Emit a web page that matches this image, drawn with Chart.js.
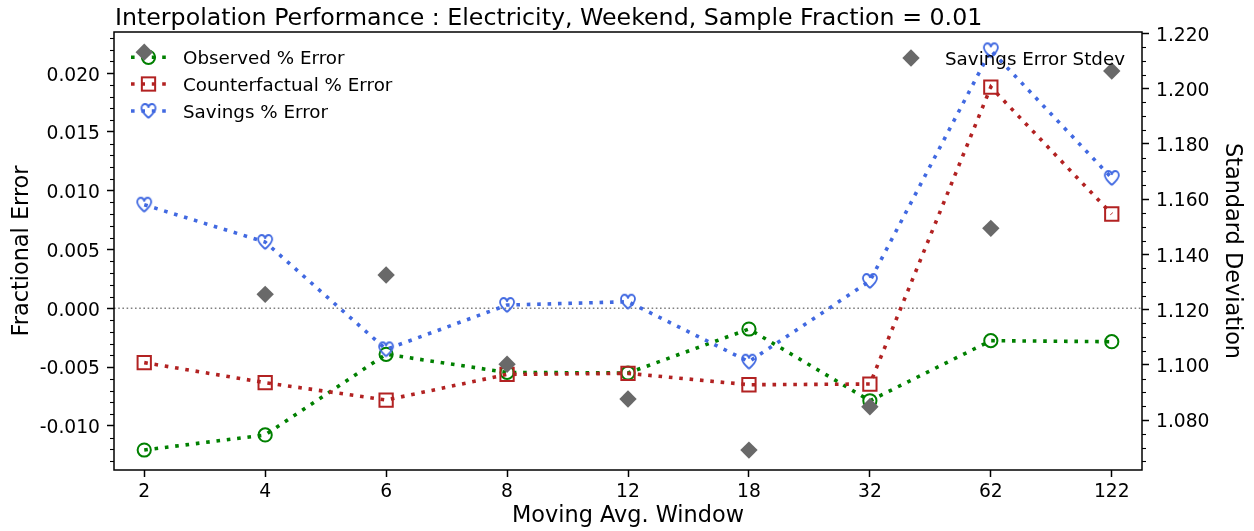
<!DOCTYPE html>
<html>
<head>
<meta charset="utf-8">
<script src="https://cdn.jsdelivr.net/npm/chart.js@4/dist/chart.umd.min.js"></script>
<style>
html,body{margin:0;padding:0;background:#fff;}
#c{display:block;}
</style>
</head>
<body>
<canvas id="c" width="1254" height="531"></canvas>
<script>
// ---- data ----
const categories = ['2','4','6','8','12','18','32','62','122'];
const observedErr = [-0.01205, -0.01077, -0.00391, -0.00545, -0.00550, -0.00176, -0.00786, -0.00275, -0.00284];
const counterfactualErr = [-0.00462, -0.00632, -0.00780, -0.00562, -0.00553, -0.00650, -0.00644, 0.01882, 0.00802];
const savingsErr = [0.00881, 0.00564, -0.00349, 0.00028, 0.00056, -0.00454, 0.00232, 0.02194, 0.01108];
const savingsStdev = [1.2132, 1.1255, 1.1325, 1.1002, 1.0876, 1.0691, 1.0848, 1.1494, 1.2064];
const leftTicks = [-0.010, -0.005, 0.000, 0.005, 0.010, 0.015, 0.020];
const rightTicks = [1.080, 1.100, 1.120, 1.140, 1.160, 1.180, 1.200, 1.220];
const zeroLineY = [0, 0];

const titleText = 'Interpolation Performance : Electricity, Weekend, Sample Fraction = 0.01';
const FONT = "'DejaVu Sans', 'Liberation Sans', sans-serif";
const GREEN = '#008000', RED = '#B22222', BLUE = '#4169E1', GRAY = '#696969';
const LW = 3.6, DASH = [3.6, 6.8];

function heartImage(color) {
  const c = document.createElement('canvas');
  c.width = 18; c.height = 18;
  const g = c.getContext('2d');
  g.strokeStyle = color; g.lineWidth = 1.8; g.lineJoin = 'round';
  g.beginPath();
  g.moveTo(9, 16);
  g.bezierCurveTo(4.5, 12, 2, 9.5, 2, 6.3);
  g.bezierCurveTo(2, 3.7, 3.8, 2, 5.7, 2);
  g.bezierCurveTo(7.4, 2, 8.5, 3.2, 9, 5.2);
  g.bezierCurveTo(9.5, 3.2, 10.6, 2, 12.3, 2);
  g.bezierCurveTo(14.2, 2, 16, 3.7, 16, 6.3);
  g.bezierCurveTo(16, 9.5, 13.5, 12, 9, 16);
  g.stroke();
  return c;
}
const heart = heartImage(BLUE);

const pts = arr => categories.map((c, i) => ({x: i, y: arr[i]}));
const xMin = -0.25, xMax = 8.25;

const lineBase = {
  borderWidth: LW, borderDash: DASH, borderCapStyle: 'butt', tension: 0,
  pointBackgroundColor: 'rgba(0,0,0,0)', pointBorderWidth: 2, yAxisID: 'y'
};

const datasets = [
  {label: 'Savings Error Stdev', data: pts(savingsStdev), yAxisID: 'y2', showLine: false,
   pointStyle: 'rectRot', pointRadius: 8.7, pointBackgroundColor: GRAY, pointBorderWidth: 0,
   borderColor: GRAY, backgroundColor: GRAY, order: 0},
  Object.assign({}, lineBase, {label: 'Savings % Error', data: pts(savingsErr), borderColor: BLUE,
   pointStyle: heart, pointRadius: 9, pointBorderColor: BLUE, order: 1}),
  Object.assign({}, lineBase, {label: 'Counterfactual % Error', data: pts(counterfactualErr), borderColor: RED,
   pointStyle: 'rect', pointRadius: 9.4, pointBorderColor: RED, order: 2}),
  Object.assign({}, lineBase, {label: 'Observed % Error', data: pts(observedErr), borderColor: GREEN,
   pointStyle: 'circle', pointRadius: 6.6, pointBorderColor: GREEN, order: 3}),
  {label: 'zero', data: [{x: xMin, y: zeroLineY[0]}, {x: xMax, y: zeroLineY[1]}], yAxisID: 'y',
   borderColor: '#808080', borderWidth: 1.6, borderDash: [1.6, 2.6], borderCapStyle: 'butt',
   pointRadius: 0, order: 4}
];

function drawMarker(ctx, type, x, y) {
  ctx.save();
  ctx.setLineDash([]);
  if (type === 'circle') {
    ctx.strokeStyle = GREEN; ctx.lineWidth = 2;
    ctx.beginPath(); ctx.arc(x, y, 6.6, 0, Math.PI * 2); ctx.stroke();
  } else if (type === 'rect') {
    ctx.strokeStyle = RED; ctx.lineWidth = 2;
    const s = 9.4 * Math.SQRT1_2;
    ctx.strokeRect(x - s, y - s, 2 * s, 2 * s);
  } else if (type === 'heart') {
    ctx.drawImage(heart, x - 9, y - 9);
  } else if (type === 'diamond') {
    const r = 8.7;
    ctx.fillStyle = GRAY;
    ctx.beginPath(); ctx.moveTo(x - r, y); ctx.lineTo(x, y - r); ctx.lineTo(x + r, y); ctx.lineTo(x, y + r);
    ctx.closePath(); ctx.fill();
  }
  ctx.restore();
}

const decorPlugin = {
  id: 'decor',
  beforeDatasetsDraw(chart) {
    const ctx = chart.ctx;
    const rows = [
      {label: 'Observed % Error', color: GREEN, m: 'circle', y: 57.3},
      {label: 'Counterfactual % Error', color: RED, m: 'rect', y: 84},
      {label: 'Savings % Error', color: BLUE, m: 'heart', y: 111}
    ];
    ctx.save();
    rows.forEach(r => {
      ctx.strokeStyle = r.color; ctx.lineWidth = LW; ctx.lineCap = 'butt';
      ctx.setLineDash(DASH);
      ctx.beginPath(); ctx.moveTo(131, r.y); ctx.lineTo(167, r.y); ctx.stroke();
      drawMarker(ctx, r.m, 148.5, r.y);
      ctx.fillStyle = '#000'; ctx.font = '18.3px ' + FONT;
      ctx.textBaseline = 'alphabetic'; ctx.textAlign = 'left';
      ctx.fillText(r.label, 183, r.y + 7);
    });
    ctx.restore();
  },
  afterDatasetsDraw(chart) {
    const ctx = chart.ctx;
    drawMarker(ctx, 'diamond', 911, 58);
    ctx.save();
    ctx.fillStyle = '#000'; ctx.font = '18.3px ' + FONT;
    ctx.textBaseline = 'alphabetic'; ctx.textAlign = 'left';
    ctx.fillText('Savings Error Stdev', 945, 65);
    ctx.restore();
  },
  afterDraw(chart) {
    const ctx = chart.ctx;
    const a = chart.chartArea;
    ctx.save();
    ctx.strokeStyle = '#000'; ctx.lineWidth = 1.1;
    const ys = chart.scales.y, y2 = chart.scales.y2;
    for (let k = -13; k <= 23; k++) {
      if (k % 5 === 0) continue;
      const py = Math.round(ys.getPixelForValue(k / 1000)) + 0.5;
      ctx.beginPath(); ctx.moveTo(a.left - 4, py); ctx.lineTo(a.left, py); ctx.stroke();
    }
    for (let k = 1065; k <= 1220; k += 5) {
      if (k % 20 === 0) continue;
      const py = Math.round(y2.getPixelForValue(k / 1000)) + 0.5;
      ctx.beginPath(); ctx.moveTo(a.right, py); ctx.lineTo(a.right + 4, py); ctx.stroke();
    }
    ctx.lineWidth = 1.5;
    ctx.strokeRect(a.left, a.top, a.right - a.left, a.bottom - a.top);
    ctx.fillStyle = '#000'; ctx.font = '23.7px ' + FONT;
    ctx.textAlign = 'left'; ctx.textBaseline = 'alphabetic';
    ctx.fillText(titleText, a.left + 1, 25);
    ctx.restore();
  }
};

const tickFont = {family: FONT, size: 18.7};
const titleFont = {family: FONT, size: 22.4};
const gridOpt = {display: true, drawOnChartArea: false, drawTicks: true, tickLength: 7, tickWidth: 1.5, tickColor: '#000'};

new Chart(document.getElementById('c'), {
  type: 'line',
  data: {datasets},
  options: {
    responsive: false, animation: false, devicePixelRatio: 1,
    layout: {padding: {top: 32, left: 0, right: 0, bottom: 0}},
    plugins: {legend: {display: false}, title: {display: false}, tooltip: {enabled: false}},
    scales: {
      x: {
        type: 'linear', position: 'bottom', min: xMin, max: xMax,
        grid: gridOpt, border: {display: false},
        afterBuildTicks: s => { s.ticks = categories.map((c, i) => ({value: i})); },
        afterFit: s => { s.height = 61; },
        ticks: {font: tickFont, color: '#000', padding: 4, maxRotation: 0, autoSkip: false,
                callback: v => categories[Math.round(v)]},
        title: {display: true, text: 'Moving Avg. Window', font: titleFont, color: '#000', padding: {top: 0, bottom: 1.5}}
      },
      y: {
        type: 'linear', position: 'left', min: -0.01375, max: 0.0235,
        grid: gridOpt, border: {display: false},
        afterBuildTicks: s => { s.ticks = leftTicks.map(v => ({value: v})); },
        afterFit: s => { s.width = 114; },
        ticks: {font: tickFont, color: '#000', padding: 7, labelOffset: 2.5, callback: v => v.toFixed(3)},
        title: {display: true, text: 'Fractional Error', font: titleFont, color: '#000', padding: {top: 8.5, bottom: 0}}
      },
      y2: {
        type: 'linear', position: 'right', min: 1.0619, max: 1.2205,
        grid: gridOpt, border: {display: false},
        afterBuildTicks: s => { s.ticks = rightTicks.map(v => ({value: v})); },
        afterFit: s => { s.width = 112; },
        ticks: {font: tickFont, color: '#000', padding: 7, labelOffset: 2.5, callback: v => v.toFixed(3)},
        title: {display: true, text: 'Standard Deviation', font: titleFont, color: '#000', padding: {top: 8.5, bottom: 0}}
      }
    }
  },
  plugins: [decorPlugin]
});
</script>
</body>
</html>
